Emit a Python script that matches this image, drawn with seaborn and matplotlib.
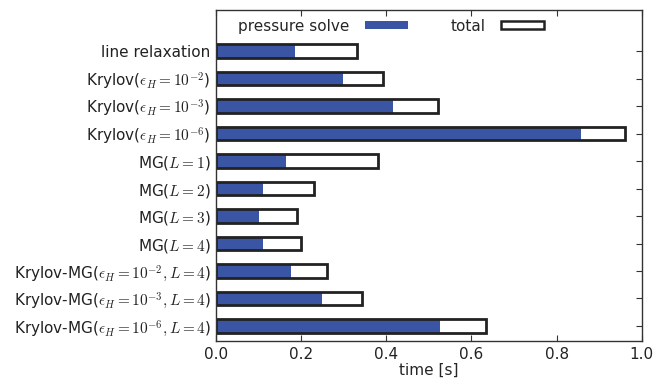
import matplotlib
matplotlib.use("Agg")
import matplotlib.pyplot as plt
import seaborn as sns
import pandas as pd
from matplotlib.patches import Patch

methods = [
    "line relaxation",
    r"Krylov($\epsilon_H=10^{-2}$)",
    r"Krylov($\epsilon_H=10^{-3}$)",
    r"Krylov($\epsilon_H=10^{-6}$)",
    r"MG($L=1$)",
    r"MG($L=2$)",
    r"MG($L=3$)",
    r"MG($L=4$)",
    r"Krylov-MG($\epsilon_H=10^{-2},L=4$)",
    r"Krylov-MG($\epsilon_H=10^{-3},L=4$)",
    r"Krylov-MG($\epsilon_H=10^{-6},L=4$)",
]
pressure = [0.185, 0.297, 0.415, 0.858, 0.165, 0.11, 0.10, 0.11, 0.176, 0.248, 0.527]
total = [0.33, 0.391, 0.521, 0.961, 0.38, 0.23, 0.19, 0.20, 0.26, 0.342, 0.633]

df = pd.DataFrame({"method": methods, "pressure": pressure, "total": total})

sns.set_style("white")
plt.rcParams["mathtext.fontset"] = "cm"
plt.rcParams["font.family"] = ["DejaVu Sans"]
plt.rcParams["font.size"] = 11

blue = "#3A55A4"
fig = plt.figure(figsize=(6.65, 3.79), dpi=100)
ax = fig.add_axes([0.325, 0.10, 0.64, 0.874])

sns.barplot(data=df, x="pressure", y="method", orient="h", color=blue,
            saturation=1, width=0.5, linewidth=0, ax=ax)
sns.barplot(data=df, x="total", y="method", orient="h", color="none",
            saturation=1, width=0.5, edgecolor="#222222", linewidth=2.0,
            fill=False, ax=ax)

ax.set_xlim(0, 1.0)
ax.set_ylim(10.55, -1.5)
ax.set_xticks([0.0, 0.2, 0.4, 0.6, 0.8, 1.0])
ax.set_xlabel("time [s]", fontsize=11, labelpad=1)
ax.set_ylabel("")
ax.tick_params(direction="in", top=True, right=True, bottom=True, left=True,
               length=4, width=0.8, colors="#333333", labelcolor="#222222",
               labelsize=11, pad=4)
for s in ax.spines.values():
    s.set_color("#333333")
    s.set_linewidth(1.0)

handles = [Patch(facecolor=blue, edgecolor="none", label="pressure solve"),
           Patch(facecolor="white", edgecolor="#222222", linewidth=1.8, label="total")]
ax.legend(handles=handles, loc="upper left", ncol=2, frameon=False,
          markerfirst=False, handlelength=2.8, handleheight=0.45,
          handletextpad=1.0, columnspacing=2.8, borderpad=0, borderaxespad=0,
          bbox_to_anchor=(0.052, 0.973), fontsize=11)

fig.savefig("out.png", dpi=100)
